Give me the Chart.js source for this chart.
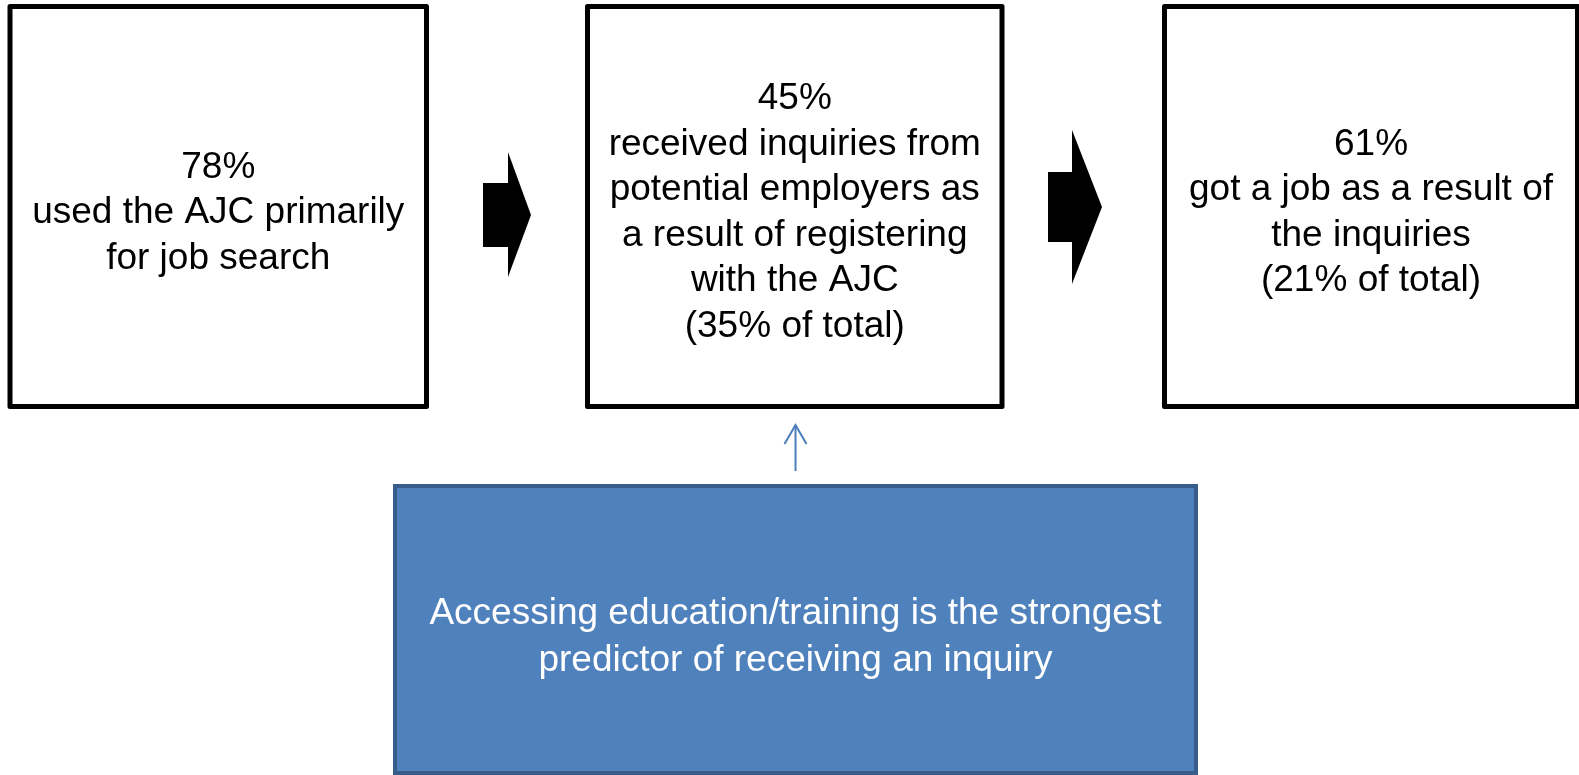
<!DOCTYPE html>
<html>
<head>
<meta charset="utf-8">
<title>AJC job search flow</title>
<script src="https://cdn.jsdelivr.net/npm/chart.js@4.4.1/dist/chart.umd.min.js"></script>
<style>
  html, body { margin: 0; padding: 0; background: #ffffff; overflow: hidden; }
  #wrap { width: 1579px; height: 775px; }
</style>
</head>
<body>
<div id="wrap"><canvas id="flowChart" width="1579" height="775"></canvas></div>
<script>
// --- data ---
const stepPercents = [78, 45, 61];
const stepDescriptions = [
  ["used the AJC primarily", "for job search"],
  ["received inquiries from", "potential employers as", "a result of registering", "with the AJC"],
  ["got a job as a result of", "the inquiries"]
];
const stepTotals = [null, 35, 21];
const noteLines = [
  "Accessing education/training is the strongest",
  "predictor of receiving an inquiry"
];

// --- layout (in scale units, the scales run 0..1579 and 0..775) ---
const boxes = [
  { x0: 10, x1: 426.5, y0: 6.5, y1: 406.5 },
  { x0: 587.5, x1: 1002, y0: 6.5, y1: 406.5 },
  { x0: 1164.5, x1: 1577.5, y0: 6.5, y1: 406.5 }
];
const blockArrows = [
  { sx: 483, hx: 508, tip: 531, sy0: 183, sy1: 247, hy0: 152, hy1: 277, ty: 215 },
  { sx: 1048, hx: 1072, tip: 1102, sy0: 172, sy1: 242, hy0: 130, hy1: 284, ty: 207 }
];
const noteBox = { x0: 395, x1: 1196, y0: 486, y1: 773 };
const noteArrow = { x: 795.5, y0: 471, y1: 425, wing: 11, wingDrop: 19 };
const fontFamily = '"Liberation Sans", Arial, Helvetica, sans-serif';

function boxLines(i) {
  const lines = [stepPercents[i] + "%"].concat(stepDescriptions[i]);
  if (stepTotals[i] !== null) lines.push("(" + stepTotals[i] + "% of total)");
  return lines;
}

const flowPlugin = {
  id: "flowDiagram",
  afterDraw(chart) {
    const ctx = chart.ctx;
    const xs = chart.scales.x;
    const ys = chart.scales.y;
    const px = (v) => xs.getPixelForValue(v);
    const py = (v) => ys.getPixelForValue(v);

    function writeLines(lines, cx, cy, size, gap, colour) {
      ctx.font = size + "px " + fontFamily;
      ctx.fillStyle = colour;
      ctx.textAlign = "center";
      ctx.textBaseline = "middle";
      const start = cy - (lines.length - 1) * gap / 2;
      lines.forEach((t, k) => ctx.fillText(t, cx, start + k * gap));
    }

    ctx.save();

    // the three step boxes
    boxes.forEach((b, i) => {
      ctx.lineWidth = 5;
      ctx.strokeStyle = "#000000";
      ctx.lineJoin = "round";
      ctx.strokeRect(px(b.x0), py(b.y0), px(b.x1) - px(b.x0), py(b.y1) - py(b.y0));
      const cx = (px(b.x0) + px(b.x1)) / 2;
      const cy = (py(b.y0) + py(b.y1)) / 2 + 6.5;
      writeLines(boxLines(i), cx, cy, 37, 45.5, "#000000");
    });

    // block arrows between the boxes
    blockArrows.forEach((a) => {
      ctx.beginPath();
      ctx.moveTo(px(a.sx), py(a.sy0));
      ctx.lineTo(px(a.hx), py(a.sy0));
      ctx.lineTo(px(a.hx), py(a.hy0));
      ctx.lineTo(px(a.tip), py(a.ty));
      ctx.lineTo(px(a.hx), py(a.hy1));
      ctx.lineTo(px(a.hx), py(a.sy1));
      ctx.lineTo(px(a.sx), py(a.sy1));
      ctx.closePath();
      ctx.fillStyle = "#000000";
      ctx.fill();
    });

    // thin blue arrow up to the middle box
    ctx.strokeStyle = "#4A7EBB";
    ctx.lineWidth = 2;
    ctx.lineJoin = "miter";
    ctx.beginPath();
    ctx.moveTo(px(noteArrow.x), py(noteArrow.y0));
    ctx.lineTo(px(noteArrow.x), py(noteArrow.y1));
    ctx.stroke();
    ctx.beginPath();
    ctx.moveTo(px(noteArrow.x - noteArrow.wing), py(noteArrow.y1 + noteArrow.wingDrop));
    ctx.lineTo(px(noteArrow.x), py(noteArrow.y1));
    ctx.lineTo(px(noteArrow.x + noteArrow.wing), py(noteArrow.y1 + noteArrow.wingDrop));
    ctx.stroke();

    // blue note box
    const nx = px(noteBox.x0), ny = py(noteBox.y0);
    const nw = px(noteBox.x1) - nx, nh = py(noteBox.y1) - ny;
    ctx.fillStyle = "#4F81BD";
    ctx.fillRect(nx, ny, nw, nh);
    ctx.strokeStyle = "#385D8A";
    ctx.lineWidth = 4;
    ctx.strokeRect(nx, ny, nw, nh);
    writeLines(noteLines, nx + nw / 2, ny + nh / 2 + 7.5, 37, 47, "#FFFFFF");

    ctx.restore();
  }
};

new Chart(document.getElementById("flowChart").getContext("2d"), {
  type: "scatter",
  data: { datasets: [{ data: [], pointRadius: 0 }] },
  options: {
    responsive: false,
    animation: false,
    events: [],
    layout: { padding: 0 },
    plugins: { legend: { display: false }, tooltip: { enabled: false } },
    scales: {
      x: { type: "linear", min: 0, max: 1579, display: false },
      y: { type: "linear", min: 0, max: 775, reverse: true, display: false }
    }
  },
  plugins: [flowPlugin]
});
</script>
</body>
</html>
